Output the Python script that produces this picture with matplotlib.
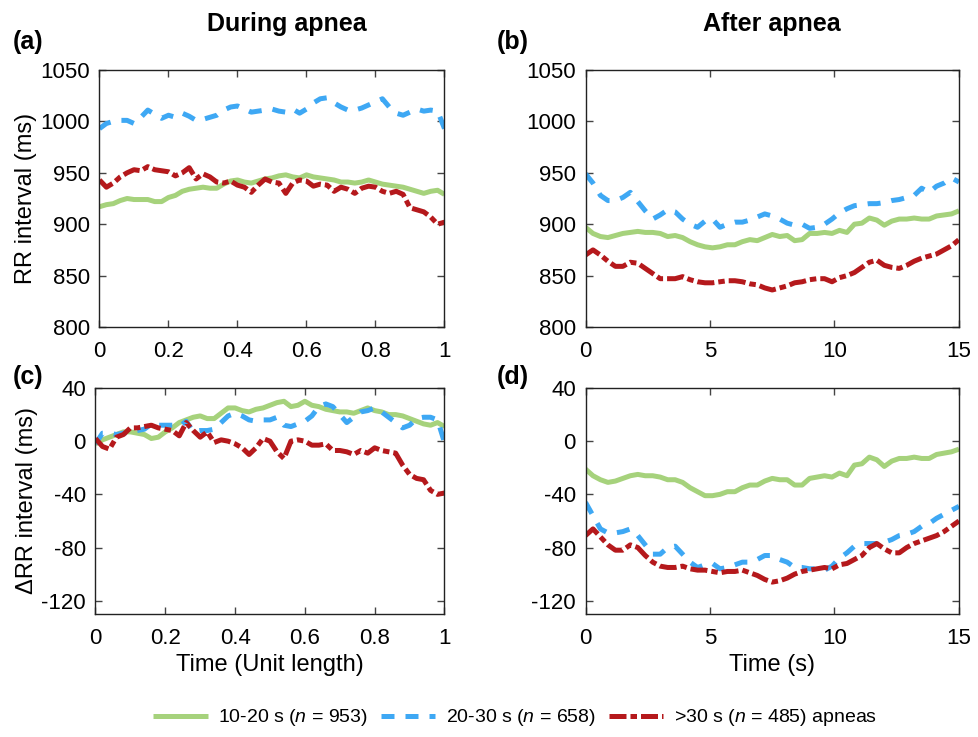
import numpy as np
import matplotlib
matplotlib.use("Agg")
import matplotlib.pyplot as plt

plt.rcParams["font.family"] = ["Liberation Sans", "DejaVu Sans"]
plt.rcParams["mathtext.fontset"] = "custom"
plt.rcParams["mathtext.rm"] = "Liberation Sans"
plt.rcParams["mathtext.it"] = "Liberation Sans:italic"
plt.rcParams["axes.unicode_minus"] = False

# sample times: unit length during apnea, seconds after apnea
t_during = np.linspace(0, 1, 51)
t_after = np.linspace(0, 15, 51)

# (a) RR interval during apnea (ms)
rr_during_10_20 = [917, 919, 920, 923, 925, 924, 924, 924, 922, 922, 926, 928, 932,
                   934, 935, 936, 935, 935, 939, 942, 943, 941, 940, 942, 944, 945,
                   947, 948, 946, 945, 948, 946, 945, 944, 943, 941, 941, 940, 941,
                   943, 941, 939, 938, 937, 936, 934, 932, 930, 932, 933, 929]
rr_during_20_30 = [993, 998, 1000, 1001, 1001, 998, 1004, 1011, 1007, 1003, 1006,
                   1004, 1008, 1005, 1001, 1002, 1004, 1006, 1011, 1014, 1015, 1012,
                   1009, 1010, 1011, 1012, 1010, 1009, 1012, 1008, 1012, 1018, 1022,
                   1023, 1018, 1014, 1011, 1011, 1013, 1016, 1019, 1022, 1014, 1008,
                   1006, 1009, 1012, 1010, 1011, 1010, 993]
rr_during_30 = [943, 936, 940, 946, 950, 953, 952, 956, 953, 952, 951, 947, 950,
                955, 944, 949, 946, 941, 940, 942, 938, 936, 931, 938, 944, 941,
                940, 930, 940, 943, 942, 937, 939, 938, 932, 936, 934, 930, 935,
                937, 936, 932, 930, 932, 929, 916, 914, 912, 907, 900, 902]

# (b) RR interval after apnea (ms)
rr_after_10_20 = [897, 891, 888, 887, 889, 891, 892, 893, 892, 892, 891, 888, 889,
                  887, 883, 880, 878, 877, 878, 880, 880, 883, 885, 884, 887, 890,
                  888, 889, 884, 885, 891, 891, 892, 891, 894, 892, 900, 901, 906,
                  904, 899, 903, 905, 905, 906, 905, 905, 908, 909, 910, 913]
rr_after_20_30 = [949, 940, 928, 923, 923, 926, 931, 922, 913, 905, 909, 914, 912,
                  905, 900, 897, 903, 905, 897, 900, 902, 902, 904, 907, 910, 908,
                  905, 901, 899, 900, 896, 897, 900, 905, 911, 915, 918, 919, 920,
                  920, 921, 923, 924, 926, 928, 935, 931, 937, 940, 945, 941]
rr_after_30 = [870, 875, 870, 864, 859, 859, 863, 862, 857, 852, 847, 847, 847,
               849, 846, 844, 843, 843, 844, 845, 845, 844, 842, 841, 838, 836,
               838, 840, 843, 844, 846, 847, 847, 844, 848, 850, 853, 858, 863,
               865, 860, 858, 857, 860, 864, 867, 869, 871, 875, 879, 885]

# (c) delta RR during apnea (ms)
drr_during_10_20 = [-2, 1, 3, 5, 7, 7, 6, 5, 2, 3, 7, 10, 14, 16, 18, 19, 17, 17,
                    21, 25, 25, 23, 22, 24, 25, 27, 29, 30, 26, 27, 30, 27, 26, 24,
                    23, 22, 22, 21, 23, 25, 23, 22, 20, 20, 19, 17, 15, 13, 12, 14, 11]
drr_during_20_30 = [-2, 6, 6, 5, 6, 7, 8, 9, 13, 12, 12, 12, 11, 15, 7, 8, 8, 9,
                    14, 19, 21, 19, 16, 15, 16, 16, 18, 12, 11, 13, 15, 19, 26, 28,
                    26, 20, 14, 18, 22, 23, 25, 22, 18, 14, 10, 12, 17, 18, 18, 16, -1]
drr_during_30 = [2, -4, -6, 3, 5, 10, 10, 11, 12, 10, 9, 8, 4, 14, 8, 3, 7, -1, 1,
                 0, -2, -5, -10, -5, 2, 0, -8, -13, 0, 1, 0, -3, -3, -2, -7, -7,
                 -8, -10, -7, -9, -5, -7, -8, -9, -18, -25, -28, -29, -37, -40, -39]

# (d) delta RR after apnea (ms)
drr_after_10_20 = [-21, -26, -29, -31, -30, -28, -26, -25, -26, -26, -27, -29, -29,
                   -31, -35, -38, -41, -41, -40, -38, -38, -35, -33, -33, -30, -28,
                   -29, -29, -33, -33, -28, -27, -26, -27, -24, -26, -18, -17, -12,
                   -14, -19, -15, -13, -13, -12, -13, -13, -10, -9, -8, -6]
drr_after_20_30 = [-46, -56, -66, -69, -69, -68, -66, -71, -78, -85, -85, -80, -79,
                   -85, -91, -95, -93, -92, -96, -95, -93, -91, -91, -89, -86, -86,
                   -89, -91, -95, -95, -96, -96, -97, -94, -88, -84, -79, -77, -77,
                   -77, -76, -74, -71, -70, -68, -64, -62, -58, -55, -52, -49]
drr_after_30 = [-71, -66, -72, -78, -82, -82, -78, -80, -86, -91, -94, -95, -95,
                -94, -96, -97, -97, -98, -99, -98, -98, -97, -99, -101, -104, -106,
                -105, -103, -100, -98, -97, -96, -95, -96, -93, -92, -89, -86, -80,
                -77, -81, -84, -84, -80, -77, -75, -73, -71, -68, -64, -60]

labels = ["10-20 s ($\\it{n}$ = 953)", "20-30 s ($\\it{n}$ = 658)",
          ">30 s ($\\it{n}$ = 485) apneas"]
GREEN = "#A6D27C"
BLUE = "#3EA8F4"
RED = "#B5191C"
LW = 3.6


def draw_lines(ax, t, g, b, r):
    ax.plot(t, g, color=GREEN, lw=LW, solid_capstyle="butt", label=labels[0])
    ax.plot(t, b, color=BLUE, lw=LW, dashes=(2.6, 2.2), label=labels[1])
    ax.plot(t, r, color=RED, lw=LW, dashes=(3.4, 0.8, 1.3, 0.8), label=labels[2])


def style_axis(ax):
    ax.tick_params(direction="in", top=True, right=True, length=5, width=1,
                   color="#444444", labelsize=16)
    ax.tick_params(axis="x", pad=10)
    ax.tick_params(axis="y", pad=7)
    for sp in ax.spines.values():
        sp.set_linewidth(1)
        sp.set_color("#222222")


fig = plt.figure(figsize=(9.79, 7.37), dpi=100)
ax_a = fig.add_axes([99.5 / 979, 1 - 327 / 737, 345 / 979, 257 / 737])
ax_b = fig.add_axes([585.5 / 979, 1 - 327 / 737, 373.5 / 979, 257 / 737])
ax_c = fig.add_axes([95.5 / 979, 1 - 614 / 737, 349 / 979, 226 / 737])
ax_d = fig.add_axes([585.5 / 979, 1 - 614 / 737, 373.5 / 979, 226 / 737])

draw_lines(ax_a, t_during, rr_during_10_20, rr_during_20_30, rr_during_30)
draw_lines(ax_b, t_after, rr_after_10_20, rr_after_20_30, rr_after_30)
draw_lines(ax_c, t_during, drr_during_10_20, drr_during_20_30, drr_during_30)
draw_lines(ax_d, t_after, drr_after_10_20, drr_after_20_30, drr_after_30)

for ax in (ax_a, ax_b):
    ax.set_ylim(800, 1050)
    ax.set_yticks([800, 850, 900, 950, 1000, 1050])
for ax in (ax_c, ax_d):
    ax.set_ylim(-130, 40)
    ax.set_yticks([-120, -80, -40, 0, 40])
for ax in (ax_a, ax_c):
    ax.set_xlim(0, 1)
    ax.set_xticks([0, 0.2, 0.4, 0.6, 0.8, 1])
    ax.set_xticklabels(["0", "0.2", "0.4", "0.6", "0.8", "1"])
for ax in (ax_b, ax_d):
    ax.set_xlim(0, 15)
    ax.set_xticks([0, 5, 10, 15])
for ax in (ax_a, ax_b, ax_c, ax_d):
    style_axis(ax)

ax_a.set_ylabel("RR interval (ms)", fontsize=17, labelpad=2)
ax_c.set_ylabel("\u0394RR interval (ms)", fontsize=17, labelpad=2)
ax_c.set_xlabel("Time (Unit length)", fontsize=17, labelpad=4)
ax_d.set_xlabel("Time (s)", fontsize=17, labelpad=4)

fig.text(287 / 979, 1 - 24 / 737, "During apnea", fontsize=18, fontweight="bold",
         ha="center", va="center")
fig.text(772 / 979, 1 - 24 / 737, "After apnea", fontsize=18, fontweight="bold",
         ha="center", va="center")
for x, y, s in [(13, 42, "(a)"), (497, 42, "(b)"), (13, 377, "(c)"), (497, 377, "(d)")]:
    fig.text(x / 979, 1 - y / 737, s, fontsize=18, fontweight="bold",
             ha="left", va="center")

handles, labs = ax_a.get_legend_handles_labels()
fig.legend(handles, labs, loc="center", bbox_to_anchor=(0.526, 1 - 718 / 737),
           ncol=3, frameon=False, fontsize=14, handlelength=2.8,
           handletextpad=0.55, columnspacing=0.65)

fig.savefig("out.png", dpi=100)
